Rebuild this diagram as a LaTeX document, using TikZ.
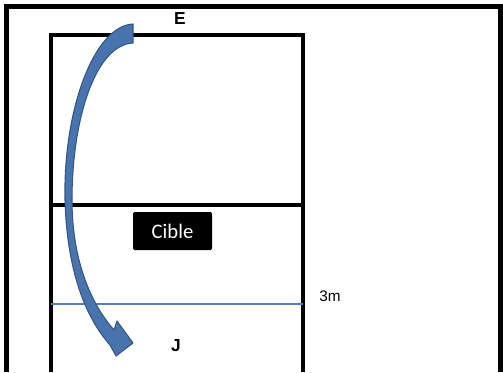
\documentclass[tikz,border=0pt]{standalone}
\usepackage{fontspec}
\setmainfont{Liberation Sans}
\newfontfamily\ciblefont{Carlito}
\definecolor{limitblue}{RGB}{79,129,189}
\definecolor{arrowfill}{RGB}{72,115,172}
\definecolor{arrowedge}{RGB}{52,88,134}
\tikzset{
  outerframe/.style={line width=3.2pt},
  court/.style={line width=2.6pt},
  limit/.style={line width=2.1pt,limitblue},
  lettre/.style={font=\fontsize{13}{15}\selectfont\bfseries,inner sep=0pt},
  ciblebox/.style={fill=black,text=white,minimum width=59.25pt,minimum height=28.5pt,
    rounded corners=1pt,font=\ciblefont\fontsize{15.5}{17}\selectfont,inner sep=0pt},
  fleche/.style={fill=arrowfill,draw=arrowedge,line width=0.8pt,line join=round}
}
\begin{document}
\begin{tikzpicture}[x=0.75pt,y=-0.75pt]
\useasboundingbox (0,0) rectangle (503,372);
% cadre
\draw[outerframe] (6.5,372) -- (6.5,6.5) -- (500.5,6.5) -- (500.5,372);
% terrain
\draw[court] (51,372) -- (51,35) -- (303,35) -- (303,372);
\draw[court] (51,205) -- (303,205);
\draw[limit] (51,304) -- (303,304);
% textes
\node[lettre] (E) at (180,18.5) {E};
\node[lettre] (J) at (176,346) {J};
\node[ciblebox] (cible) at (172.5,231) {Cible};
\node[font=\fontsize{11.5}{13}\selectfont,inner sep=0pt] (trois) at (330,296.5) {3m};
% fleche courbe
\coordinate (depart) at (133,33.5);
\coordinate (pointe) at (133,343);
\filldraw[fleche] (133,24) .. controls (94,26) and (63,110) .. (65,200)
  .. controls (67,272) and (86,318) .. (110,345)
  -- (116,356) -- (pointe) -- (117,321) -- (114,330)
  .. controls (92,305) and (72,262) .. (72,200)
  .. controls (72,120) and (95,45) .. (133,43) -- cycle;
\end{tikzpicture}
\end{document}
